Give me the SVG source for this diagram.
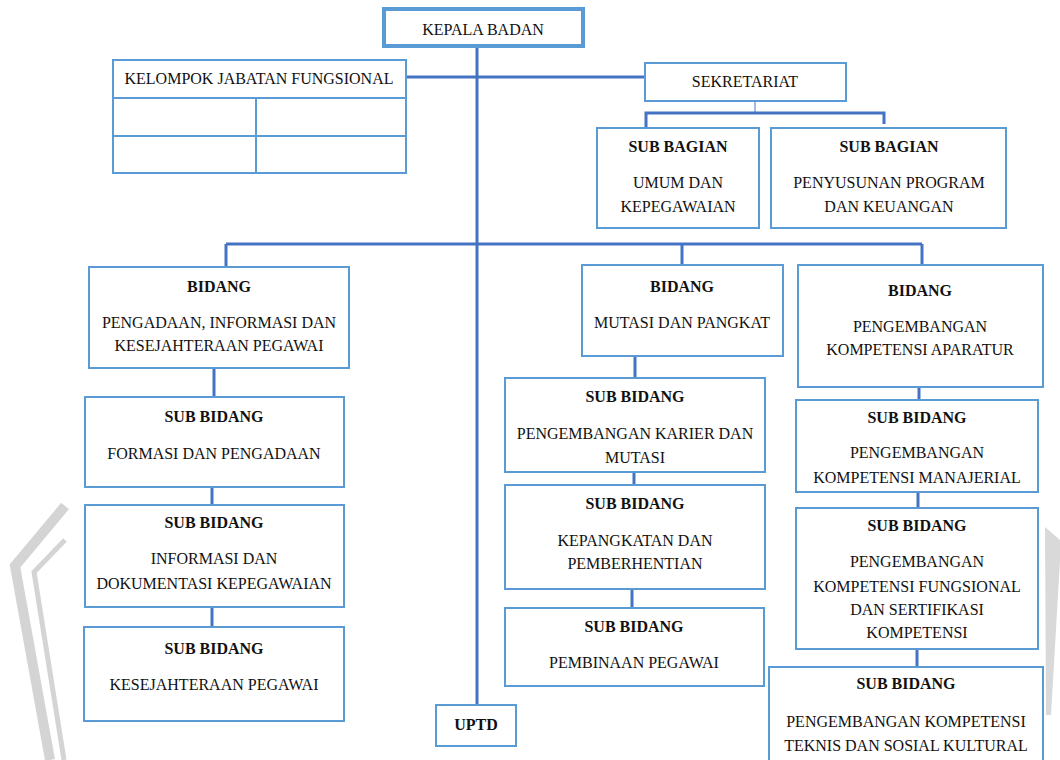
<svg xmlns="http://www.w3.org/2000/svg" width="1060" height="760" viewBox="0 0 1060 760">
<style>
.box{fill:#fff;stroke:#5b9bd5;stroke-width:2}
.thick{fill:#fff;stroke:#5b9bd5;stroke-width:4}
.c{fill:none;stroke:#4472c4;stroke-width:3}
.thin{fill:none;stroke:#4472c4;stroke-width:1}
text{font-family:"Liberation Serif","Times New Roman",serif;font-size:16px;fill:#111;text-anchor:middle}
.b{font-weight:bold}
.wm{fill:none;stroke:#d4d4d4;stroke-linejoin:miter}
</style>
<rect width="1060" height="760" fill="#fff"/>
<g id="watermark">
<polyline class="wm" stroke-width="10" points="65,506 15,566 50,760"/>
<polyline class="wm" stroke-width="5" points="65,540 34,572 64,760"/>
<polygon fill="#d9d9d9" points="1045,527 1060,540 1060,560 1051,715 1046,715"/>
</g>
<g id="connectors">
<line class="c" x1="477" y1="48" x2="477" y2="705"/>
<line class="c" x1="406" y1="77" x2="645" y2="77"/>
<line class="thin" x1="755" y1="101" x2="755" y2="113"/>
<polyline class="c" points="646,128 646,113 884,113 884,124"/>
<line class="c" x1="226" y1="244" x2="922" y2="244"/>
<line class="c" x1="226" y1="244" x2="226" y2="267"/>
<line class="c" x1="682" y1="244" x2="682" y2="265"/>
<line class="c" x1="922" y1="244" x2="922" y2="265"/>
<line class="c" x1="214" y1="368" x2="214" y2="397"/>
<line class="c" x1="212" y1="487" x2="212" y2="505"/>
<line class="c" x1="212" y1="607" x2="212" y2="627"/>
<line class="c" x1="635" y1="356" x2="635" y2="378"/>
<line class="c" x1="634" y1="472" x2="634" y2="485"/>
<line class="c" x1="632" y1="589" x2="632" y2="608"/>
<line class="c" x1="919" y1="387" x2="919" y2="400"/>
<line class="c" x1="918" y1="492" x2="918" y2="508"/>
<line class="c" x1="917" y1="649" x2="917" y2="667"/>
</g>
<g id="kepala">
<rect class="thick" x="384" y="9" width="199" height="37"/>
<text x="483" y="35">KEPALA BADAN</text>
</g>
<g id="kelompok">
<rect class="box" x="113" y="60" width="293" height="113"/>
<line class="box" x1="113" y1="98" x2="406" y2="98"/>
<line class="box" x1="113" y1="136" x2="406" y2="136"/>
<line class="box" x1="256" y1="98" x2="256" y2="173"/>
<text x="259" y="84">KELOMPOK JABATAN FUNGSIONAL</text>
</g>
<g id="sekretariat">
<rect class="box" x="645" y="63" width="201" height="38"/>
<text x="745" y="87">SEKRETARIAT</text>
</g>
<g id="subbagian-umum">
<rect class="box" x="597" y="128" width="162" height="100"/>
<text class="b" x="678" y="152">SUB BAGIAN</text>
<text x="678" y="188">UMUM DAN</text>
<text x="678" y="212">KEPEGAWAIAN</text>
</g>
<g id="subbagian-program">
<rect class="box" x="771" y="128" width="235" height="100"/>
<text class="b" x="889" y="152">SUB BAGIAN</text>
<text x="889" y="188">PENYUSUNAN PROGRAM</text>
<text x="889" y="212">DAN KEUANGAN</text>
</g>
<g id="bidang-pengadaan">
<rect class="box" x="89" y="267" width="260" height="101"/>
<text class="b" x="219" y="292">BIDANG</text>
<text x="219" y="328">PENGADAAN, INFORMASI DAN</text>
<text x="219" y="351">KESEJAHTERAAN PEGAWAI</text>
</g>
<g id="sub-formasi">
<rect class="box" x="85" y="397" width="259" height="90"/>
<text class="b" x="214" y="422">SUB BIDANG</text>
<text x="214" y="459">FORMASI DAN PENGADAAN</text>
</g>
<g id="sub-informasi">
<rect class="box" x="85" y="505" width="259" height="102"/>
<text class="b" x="214" y="528">SUB BIDANG</text>
<text x="214" y="564">INFORMASI DAN</text>
<text x="214" y="589">DOKUMENTASI KEPEGAWAIAN</text>
</g>
<g id="sub-kesejahteraan">
<rect class="box" x="84" y="627" width="260" height="94"/>
<text class="b" x="214" y="654">SUB BIDANG</text>
<text x="214" y="690">KESEJAHTERAAN PEGAWAI</text>
</g>
<g id="uptd">
<rect class="box" x="436" y="705" width="80" height="41"/>
<text class="b" x="476" y="730">UPTD</text>
</g>
<g id="bidang-mutasi">
<rect class="box" x="582" y="265" width="201" height="91"/>
<text class="b" x="682" y="292">BIDANG</text>
<text x="682" y="328">MUTASI DAN PANGKAT</text>
</g>
<g id="sub-karier">
<rect class="box" x="505" y="378" width="260" height="94"/>
<text class="b" x="635" y="402">SUB BIDANG</text>
<text x="635" y="439">PENGEMBANGAN KARIER DAN</text>
<text x="635" y="463">MUTASI</text>
</g>
<g id="sub-kepangkatan">
<rect class="box" x="505" y="485" width="260" height="104"/>
<text class="b" x="635" y="509">SUB BIDANG</text>
<text x="635" y="546">KEPANGKATAN DAN</text>
<text x="635" y="569">PEMBERHENTIAN</text>
</g>
<g id="sub-pembinaan">
<rect class="box" x="505" y="608" width="259" height="78"/>
<text class="b" x="634" y="632">SUB BIDANG</text>
<text x="634" y="668">PEMBINAAN PEGAWAI</text>
</g>
<g id="bidang-kompetensi">
<rect class="box" x="798" y="265" width="245" height="122"/>
<text class="b" x="920" y="296">BIDANG</text>
<text x="920" y="332">PENGEMBANGAN</text>
<text x="920" y="355">KOMPETENSI APARATUR</text>
</g>
<g id="sub-manajerial">
<rect class="box" x="796" y="400" width="242" height="92"/>
<text class="b" x="917" y="423">SUB BIDANG</text>
<text x="917" y="458">PENGEMBANGAN</text>
<text x="917" y="483">KOMPETENSI MANAJERIAL</text>
</g>
<g id="sub-fungsional">
<rect class="box" x="796" y="508" width="242" height="141"/>
<text class="b" x="917" y="531">SUB BIDANG</text>
<text x="917" y="567">PENGEMBANGAN</text>
<text x="917" y="592">KOMPETENSI FUNGSIONAL</text>
<text x="917" y="615">DAN SERTIFIKASI</text>
<text x="917" y="638">KOMPETENSI</text>
</g>
<g id="sub-teknis">
<rect class="box" x="769" y="667" width="274" height="100"/>
<text class="b" x="906" y="689">SUB BIDANG</text>
<text x="906" y="727">PENGEMBANGAN KOMPETENSI</text>
<text x="906" y="751">TEKNIS DAN SOSIAL KULTURAL</text>
</g>
</svg>
